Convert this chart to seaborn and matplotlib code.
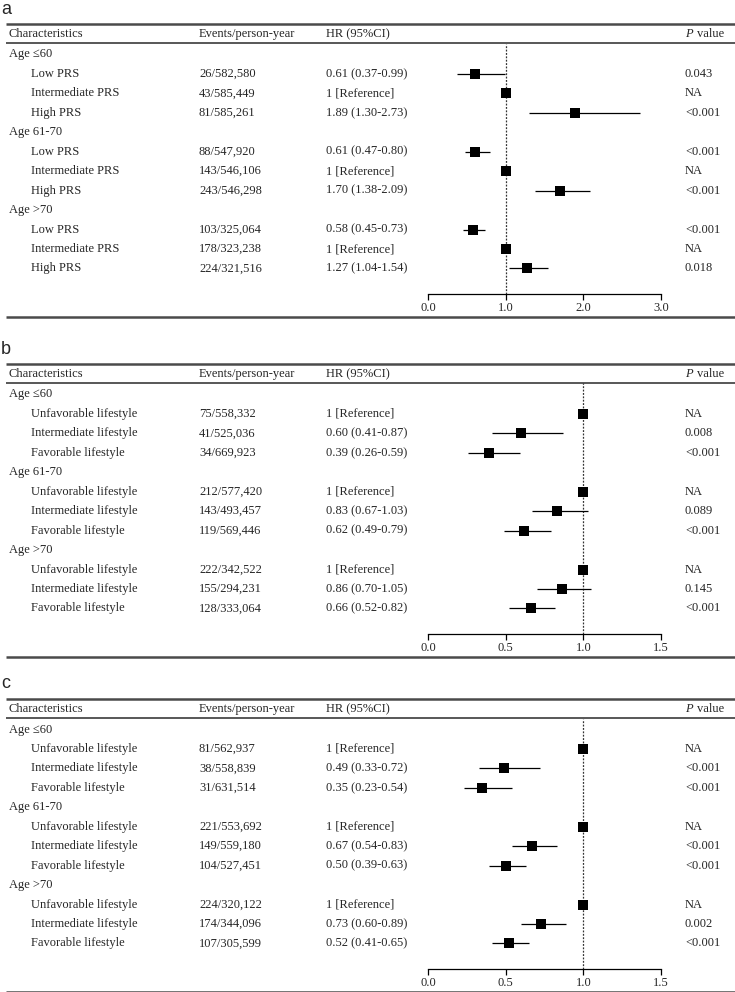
import matplotlib
matplotlib.use("Agg")
from matplotlib import pyplot as plt
from pandas import DataFrame
import seaborn as sns

# ---- data ----
groups = ["Age \u226460", "Age 61-70", "Age >70"]

a_levels = ["Low PRS", "Intermediate PRS", "High PRS"]
a_events = ["26/582,580", "43/585,449", "81/585,261",
            "88/547,920", "143/546,106", "243/546,298",
            "103/325,064", "178/323,238", "224/321,516"]
a_hr = [0.61, 1, 1.89, 0.61, 1, 1.70, 0.58, 1, 1.27]
a_lo = [0.37, 1, 1.30, 0.47, 1, 1.38, 0.45, 1, 1.04]
a_hi = [0.99, 1, 2.73, 0.80, 1, 2.09, 0.73, 1, 1.54]
a_p = ["0.043", "NA", "<0.001", "<0.001", "NA", "<0.001", "<0.001", "NA", "0.018"]
a_ticks = [0.0, 1.0, 2.0, 3.0]

life_levels = ["Unfavorable lifestyle", "Intermediate lifestyle", "Favorable lifestyle"]

b_events = ["75/558,332", "41/525,036", "34/669,923",
            "212/577,420", "143/493,457", "119/569,446",
            "222/342,522", "155/294,231", "128/333,064"]
b_hr = [1, 0.60, 0.39, 1, 0.83, 0.62, 1, 0.86, 0.66]
b_lo = [1, 0.41, 0.26, 1, 0.67, 0.49, 1, 0.70, 0.52]
b_hi = [1, 0.87, 0.59, 1, 1.03, 0.79, 1, 1.05, 0.82]
b_p = ["NA", "0.008", "<0.001", "NA", "0.089", "<0.001", "NA", "0.145", "<0.001"]

c_events = ["81/562,937", "38/558,839", "31/631,514",
            "221/553,692", "149/559,180", "104/527,451",
            "224/320,122", "174/344,096", "107/305,599"]
c_hr = [1, 0.49, 0.35, 1, 0.67, 0.50, 1, 0.73, 0.52]
c_lo = [1, 0.33, 0.23, 1, 0.54, 0.39, 1, 0.60, 0.41]
c_hi = [1, 0.72, 0.54, 1, 0.83, 0.63, 1, 0.89, 0.65]
c_p = ["NA", "<0.001", "<0.001", "NA", "<0.001", "<0.001", "NA", "0.002", "<0.001"]
bc_ticks = [0.0, 0.5, 1.0, 1.5]


def _hr_text(hr, lo, hi):
    if hr == 1 and lo == 1 and hi == 1:
        return "1 [Reference]"
    return f"{hr:.2f} ({lo:.2f}-{hi:.2f})"


# ---- layout (pixels) ----
W, H = 735, 992
panel_tops = [24, 364, 699]
X_CHAR, X_INDENT, X_EVENTS, X_HR, X_P = 9, 31, 199, 326, 685
X_F0, X_F1 = 428, 661
ROW_STEP = 19.45
FS = 9
RULE_COLOR = "#4a4a4a"

sns.set_style("white")
plt.rcParams["font.family"] = ["Liberation Serif", "DejaVu Serif"]

fig = plt.figure(figsize=(W / 100, H / 100), dpi=100)
bg = fig.add_axes([0, 0, 1, 1])
bg.set_xlim(0, W)
bg.set_ylim(H, 0)
bg.axis("off")


def _panel(top, letter, levels, events, hr, lo, hi, pvals, ticks):

    bg.text(1, top - 15, letter, family="Liberation Sans", fontsize=13,
            va="center", ha="left")
    bg.plot([6, W], [top, top], color=RULE_COLOR, lw=1.8, solid_capstyle="butt")
    bg.plot([6, W], [top + 19, top + 19], color=RULE_COLOR, lw=1.3, solid_capstyle="butt")
    bg.plot([6, W], [top + 292.5, top + 292.5], color=RULE_COLOR, lw=1.8,
            solid_capstyle="butt")

    hy = top + 10
    bg.text(X_CHAR, hy, "Characteristics", fontsize=FS, va="center")
    bg.text(X_EVENTS, hy, "Events/person-year", fontsize=FS, va="center")
    bg.text(X_HR, hy, "HR (95%CI)", fontsize=FS, va="center")
    bg.text(X_P, hy, "P", fontsize=FS, va="center", style="italic")
    bg.text(X_P + 12, hy, "value", fontsize=FS, va="center")

    rows = []
    r = 0
    for g, grp in enumerate(groups):
        y = top + 30.5 + ROW_STEP * r
        bg.text(X_CHAR, y, grp, fontsize=FS, va="center")
        r += 1
        for k, lev in enumerate(levels):
            i = g * 3 + k
            y = top + 30.5 + ROW_STEP * r
            bg.text(X_INDENT, y, lev, fontsize=FS, va="center")
            bg.text(X_EVENTS, y, events[i], fontsize=FS, va="center")
            bg.text(X_HR, y, _hr_text(hr[i], lo[i], hi[i]), fontsize=FS, va="center")
            bg.text(X_P, y, pvals[i], fontsize=FS, va="center")
            rows.append({"y": y, "hr": hr[i], "lo": lo[i], "hi": hi[i]})
            r += 1
    df = DataFrame(rows)

    # forest axes, y measured in the same pixel units as the table
    y_top = top + 19.5
    y_axis = top + 269.5
    fx = fig.add_axes([X_F0 / W, 1 - y_axis / H, (X_F1 - X_F0) / W, (y_axis - y_top) / H])
    fx.patch.set_alpha(0)
    fx.set_xlim(ticks[0], ticks[-1])
    fx.set_ylim(y_axis, y_top)

    fx.axvline(1, color="#333333", lw=0.9, ls=(0, (1.5, 1.2)), zorder=1)
    fx.hlines(df["y"], df["lo"], df["hi"], color="black", lw=0.9, zorder=2)
    sns.scatterplot(data=df, x="hr", y="y", marker="s", s=42, color="black",
                    linewidth=0, legend=False, ax=fx, zorder=3)

    for s in ["top", "right", "left"]:
        fx.spines[s].set_visible(False)
    fx.spines["bottom"].set_linewidth(0.9)
    fx.spines["bottom"].set_color("black")
    fx.set_yticks([])
    fx.set_xticks(ticks)
    fx.set_xticklabels([f"{t:.1f}" for t in ticks], fontsize=FS)
    fx.tick_params(axis="x", direction="out", length=4, width=0.9, pad=2,
                   bottom=True, color="black")
    fx.set_xlabel("")
    fx.set_ylabel("")


_panel(panel_tops[0], "a", a_levels, a_events, a_hr, a_lo, a_hi, a_p, a_ticks)
_panel(panel_tops[1], "b", life_levels, b_events, b_hr, b_lo, b_hi, b_p, bc_ticks)
_panel(panel_tops[2], "c", life_levels, c_events, c_hr, c_lo, c_hi, c_p, bc_ticks)

fig.savefig("out.png", dpi=100)
plt.close(fig)
